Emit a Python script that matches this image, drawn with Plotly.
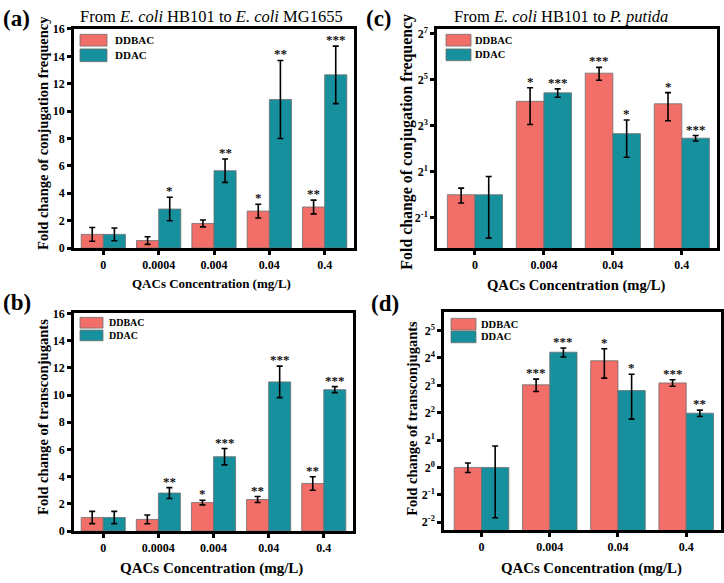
import numpy as np
import plotly.graph_objects as go

# ---------------- data ----------------
cats_ab = ["0", "0.0004", "0.004", "0.04", "0.4"]
cats_cd = ["0", "0.004", "0.04", "0.4"]
series_names = ["DDBAC", "DDAC"]

a_ddbac = [1.0, 0.55, 1.8, 2.7, 3.0]
a_ddbac_err = [0.5, 0.28, 0.25, 0.5, 0.5]
a_ddac = [1.0, 2.85, 5.65, 10.85, 12.65]
a_ddac_err = [0.47, 0.86, 0.85, 2.85, 2.1]
a_ddbac_sig = ["", "", "", "*", "**"]
a_ddac_sig = ["", "*", "**", "**", "***"]

b_ddbac = [1.0, 0.86, 2.1, 2.32, 3.5]
b_ddbac_err = [0.45, 0.32, 0.17, 0.22, 0.5]
b_ddac = [1.0, 2.8, 5.47, 10.97, 10.4]
b_ddac_err = [0.45, 0.4, 0.6, 1.16, 0.22]
b_ddbac_sig = ["", "", "*", "**", "**"]
b_ddac_sig = ["", "**", "***", "***", "***"]

c_ddbac = [1.0, 16.7, 39.0, 15.5]
c_ddbac_err = [0.22, 8.4, 7.5, 6.2]
c_ddac = [1.0, 21.6, 6.3, 5.5]
c_ddac_err = [0.73, 2.7, 3.2, 0.45]
c_ddbac_sig = ["", "*", "***", "*"]
c_ddac_sig = ["", "***", "*", "***"]

d_ddbac = [1.0, 8.1, 14.9, 8.5]
d_ddbac_err = [0.12, 1.25, 5.3, 0.7]
d_ddac = [1.0, 18.5, 7.0, 3.95]
d_ddac_err = [0.72, 2.1, 3.6, 0.32]
d_ddbac_sig = ["", "***", "*", "***"]
d_ddac_sig = ["", "***", "*", "**"]

lin_ticks = [0, 2, 4, 6, 8, 10, 12, 14, 16]
c_tick_exp = [-1, 1, 3, 5, 7]
d_tick_exp = [-2, -1, 0, 1, 2, 3, 4, 5]

# ---------------- style ----------------
W, H = 724, 583
FONT = "Liberation Serif, Times New Roman, serif"
RED = "#F26E68"
TEAL = "#17909E"
EDGE = "#6e6e6e"
BARGAP = 0.2
bw = (1 - BARGAP) / 2


def X(px):
    return px / W


def Y(py):
    return 1 - py / H


panels = {
    "a": dict(ax="", cats=cats_ab, v=(a_ddbac, a_ddac), e=(a_ddbac_err, a_ddac_err),
              s=(a_ddbac_sig, a_ddac_sig), log=False, box=(74, 354, 22.5, 247)),
    "b": dict(ax="2", cats=cats_ab, v=(b_ddbac, b_ddac), e=(b_ddbac_err, b_ddac_err),
              s=(b_ddbac_sig, b_ddac_sig), log=False, box=(74, 353, 314, 537)),
    "c": dict(ax="3", cats=cats_cd, v=(c_ddbac, c_ddac), e=(c_ddbac_err, c_ddac_err),
              s=(c_ddbac_sig, c_ddac_sig), log=True, box=(437, 717, 22.7, 247)),
    "d": dict(ax="4", cats=cats_cd, v=(d_ddbac, d_ddac), e=(d_ddbac_err, d_ddac_err),
              s=(d_ddbac_sig, d_ddac_sig), log=True, box=(444, 721, 313, 536)),
}

fig = go.Figure()
annotations = []
shapes = []

for key, p in panels.items():
    ax = p["ax"]
    for k, (name, col) in enumerate(zip(series_names, [RED, TEAL])):
        fig.add_trace(go.Bar(
            x=p["cats"], y=p["v"][k], name=name, showlegend=False,
            marker=dict(color=col, line=dict(color=EDGE, width=0.8)),
            error_y=dict(type="data", array=p["e"][k], color="black",
                         thickness=1.6, width=3),
            xaxis="x" + ax, yaxis="y" + ax,
        ))
        # significance stars
        for i, (val, err, sig) in enumerate(zip(p["v"][k], p["e"][k], p["s"][k])):
            if not sig:
                continue
            top = val + err
            yy = np.log10(top) if p["log"] else top
            annotations.append(dict(
                x=i + (-bw / 2 if k == 0 else bw / 2), y=yy,
                xref="x" + ax, yref="y" + ax, text="<b>%s</b>" % sig, showarrow=False,
                yanchor="bottom", yshift=-3,
                font=dict(family=FONT, size=13, color="#111"),
            ))

    x0, x1, y0, y1 = p["box"]
    xa = dict(domain=[X(x0), X(x1)], anchor="y" + ax, type="category",
              showline=True, linewidth=2.5, linecolor="black", mirror=True,
              ticks="outside", ticklen=4, tickwidth=2.5, tickcolor="black",
              tickfont=dict(family=FONT, size=12, color="black", weight="bold"),
              showgrid=False, zeroline=False,
              range=[-0.53, len(p["cats"]) - 0.47] if not p["log"] else
              [-0.55, len(p["cats"]) - 0.49])
    ya = dict(domain=[Y(y1), Y(y0)], anchor="x" + ax,
              showline=True, linewidth=2.5, linecolor="black", mirror=True,
              ticks="outside", ticklen=4, tickwidth=2.5, tickcolor="black",
              tickfont=dict(family=FONT, size=12, color="black", weight="bold"),
              showgrid=False, zeroline=False)
    if p["log"]:
        exps = c_tick_exp if key == "c" else d_tick_exp
        ya.update(type="log", tickvals=[2.0 ** e for e in exps],
                  ticktext=["2<sup>%d</sup>" % e for e in exps])
        if key == "c":
            ya["range"] = [np.log10(2 ** -2.32), np.log10(2 ** 7.2)]
        else:
            ya["range"] = [np.log10(2 ** -2.29), np.log10(2 ** 5.66)]
    else:
        ya.update(range=[0, 16], tickvals=lin_ticks)
    fig.update_layout({"xaxis" + ax: xa, "yaxis" + ax: ya})


def text(px, py, s, size, weight="bold", angle=0, xanchor="center"):
    annotations.append(dict(
        x=X(px), y=Y(py), xref="paper", yref="paper", text=s, showarrow=False,
        xanchor=xanchor, yanchor="middle", textangle=angle,
        font=dict(family=FONT, size=size, color="black", weight=weight)))


# panel labels
text(1, 12, "(a)", 23, xanchor="left")
text(1, 303, "(b)", 23, xanchor="left")
text(364, 12, "(c)", 23, xanchor="left")
text(369, 304, "(d)", 23, xanchor="left")

# titles
text(212, 10, "From <i>E. coli</i> HB101 to <i>E. coli</i> MG1655", 16.5, weight="normal")
text(561, 10, "From <i>E. coli</i> HB101 to <i>P. putida</i>", 16.5, weight="normal")

# y-axis titles
text(43, 129, "Fold change of conjugation frequency", 14.5, angle=-90)
text(43, 420, "Fold change of transconjugants", 14.6, angle=-90)
text(407, 138, "Fold change of conjugation frequency", 15.9, angle=-90)
text(412, 422, "Fold change of transconjugants", 14.5, angle=-90)

# x-axis titles
text(212, 283, "QACs Concentration (mg/L)", 13)
text(211, 575, "QACs Concentration (mg/L)", 15)
text(576, 285, "QACs Concentration (mg/L)", 14.6)
text(591, 575, "QACs Concentration (mg/L)", 14.8)

# legends (swatch boxes + labels)
legends = [
    (80, 107, 28, 40, 43, 56, 113, 11),
    (80, 103, 318, 329, 331, 342, 107, 10),
    (446, 471, 28, 40, 43, 55, 473, 10.5),
    (451, 476, 319, 331, 332, 344, 479, 10.5),
]
for (lx0, lx1, ry0, ry1, ty0, ty1, tx, fs) in legends:
    for (yy0, yy1, col, nm) in [(ry0, ry1, RED, series_names[0]),
                                (ty0, ty1, TEAL, series_names[1])]:
        shapes.append(dict(type="rect", xref="paper", yref="paper",
                           x0=X(lx0), x1=X(lx1), y0=Y(yy1), y1=Y(yy0),
                           fillcolor=col, line=dict(color=EDGE, width=0.8)))
        text(tx, (yy0 + yy1) / 2, nm, fs, xanchor="left")

fig.update_layout(
    width=W, height=H, margin=dict(l=0, r=0, t=0, b=0),
    barmode="group", bargap=BARGAP, bargroupgap=0,
    plot_bgcolor="white", paper_bgcolor="white",
    annotations=annotations, shapes=shapes,
    font=dict(family=FONT, color="black"),
)

fig.write_html(
    "out.html",
    config={"displayModeBar": False},
    post_script="document.body.style.margin='0';document.body.style.overflow='hidden';",
)
